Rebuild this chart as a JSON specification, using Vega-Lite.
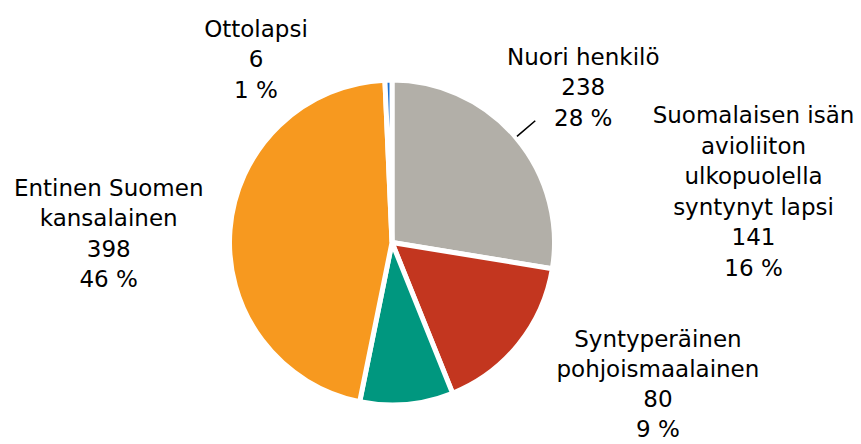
{
  "$schema": "https://vega.github.io/schema/vega-lite/v6.json",
  "width": 784,
  "height": 403,
  "autosize": "none",
  "padding": {"left": 0, "top": 41, "right": 77, "bottom": 0},
  "background": "white",
  "view": {"stroke": null},
  "data": {"values": [
    {"idx": 1, "category": "Nuori henkilö", "value": 238, "label": "Nuori henkilö\n238\n28 %"},
    {"idx": 2, "category": "Suomalaisen isän avioliiton ulkopuolella syntynyt lapsi", "value": 141, "label": "Suomalaisen isän\navioliiton\nulkopuolella\nsyntynyt lapsi\n141\n16 %"},
    {"idx": 3, "category": "Syntyperäinen pohjoismaalainen", "value": 80, "label": "Syntyperäinen\npohjoismaalainen\n80\n9 %"},
    {"idx": 4, "category": "Entinen Suomen kansalainen", "value": 398, "label": "Entinen Suomen\nkansalainen\n398\n46 %"},
    {"idx": 5, "category": "Ottolapsi", "value": 6, "label": "Ottolapsi\n6\n1 %"}
  ]},
  "encoding": {
    "theta": {"field": "value", "type": "quantitative", "stack": true},
    "order": {"field": "idx", "type": "quantitative"},
    "color": {
      "field": "category",
      "type": "nominal",
      "legend": null,
      "scale": {
        "domain": ["Nuori henkilö", "Suomalaisen isän avioliiton ulkopuolella syntynyt lapsi", "Syntyperäinen pohjoismaalainen", "Entinen Suomen kansalainen", "Ottolapsi"],
        "range": ["#B2AFA8", "#C3361F", "#00977F", "#F7991F", "#1A6ECF"]
      }
    }
  },
  "layer": [
    {"mark": {"type": "arc", "outerRadius": 162.5, "stroke": "white", "strokeWidth": 5}},
    {
      "mark": {"type": "arc", "radius": 188, "radius2": 164, "padAngle": 1.4, "fillOpacity": 0, "stroke": "black", "strokeWidth": 1.6},
      "encoding": {
        "color": {"value": "black"},
        "strokeOpacity": {"condition": {"test": "datum.idx === 1", "value": 1}, "value": 0}
      }
    },
    {
      "mark": {"type": "text", "radius": 230, "dx": 16, "dy": -29, "align": "center", "baseline": "alphabetic", "lineBreak": "\n", "lineHeight": 30.5, "font": "DejaVu Sans", "fontSize": 23},
      "encoding": {"color": {"value": "black"}, "text": {"condition": {"test": "datum.idx === 1", "field": "label", "type": "nominal"}, "value": ""}}
    },
    {
      "mark": {"type": "text", "radius": 230, "dx": 182, "dy": -263, "align": "center", "baseline": "alphabetic", "lineBreak": "\n", "lineHeight": 30.5, "font": "DejaVu Sans", "fontSize": 23},
      "encoding": {"color": {"value": "black"}, "text": {"condition": {"test": "datum.idx === 2", "field": "label", "type": "nominal"}, "value": ""}}
    },
    {
      "mark": {"type": "text", "radius": 230, "dx": 245, "dy": -125, "align": "center", "baseline": "alphabetic", "lineBreak": "\n", "lineHeight": 30.3, "font": "DejaVu Sans", "fontSize": 23},
      "encoding": {"color": {"value": "black"}, "text": {"condition": {"test": "datum.idx === 3", "field": "label", "type": "nominal"}, "value": ""}}
    },
    {
      "mark": {"type": "text", "radius": 230, "dx": -54, "dy": -29, "align": "center", "baseline": "alphabetic", "lineBreak": "\n", "lineHeight": 30.5, "font": "DejaVu Sans", "fontSize": 23},
      "encoding": {"color": {"value": "black"}, "text": {"condition": {"test": "datum.idx === 4", "field": "label", "type": "nominal"}, "value": ""}}
    },
    {
      "mark": {"type": "text", "radius": 230, "dx": -131, "dy": 24, "align": "center", "baseline": "alphabetic", "lineBreak": "\n", "lineHeight": 30.5, "font": "DejaVu Sans", "fontSize": 23},
      "encoding": {"color": {"value": "black"}, "text": {"condition": {"test": "datum.idx === 5", "field": "label", "type": "nominal"}, "value": ""}}
    }
  ]
}
